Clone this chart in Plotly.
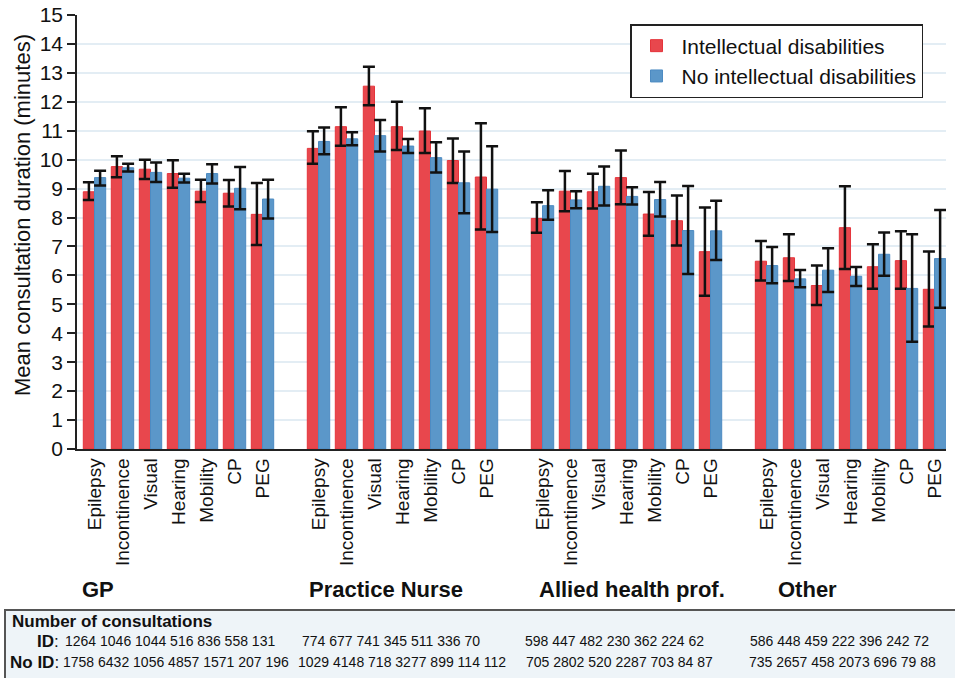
import plotly.graph_objects as go

groups = ["GP", "Practice Nurse", "Allied health prof.", "Other"]
conditions = ["Epilepsy", "Incontinence", "Visual", "Hearing", "Mobility", "CP", "PEG"]

# Intellectual disabilities: mean, lower CI, upper CI (per group, per condition)
id_mean = [8.89, 9.76, 9.67, 9.52, 8.91, 8.84, 8.11,
           10.39, 11.14, 12.54, 11.14, 10.99, 9.97, 9.40,
           7.97, 8.91, 8.89, 9.38, 8.12, 7.89, 6.82,
           6.49, 6.61, 5.65, 7.65, 6.30, 6.51, 5.52]
id_lo = [8.61, 9.39, 9.33, 9.03, 8.54, 8.38, 7.05,
         9.86, 10.48, 11.88, 10.33, 10.23, 9.19, 7.59,
         7.47, 8.22, 8.31, 8.46, 7.37, 7.03, 5.30,
         5.82, 5.81, 4.98, 6.22, 5.54, 5.54, 4.23]
id_hi = [9.22, 10.12, 10.00, 9.98, 9.31, 9.30, 9.19,
         10.98, 11.81, 13.21, 12.00, 11.78, 10.73, 11.26,
         8.53, 9.61, 9.51, 10.32, 8.88, 8.76, 8.35,
         7.19, 7.42, 6.34, 9.08, 7.08, 7.53, 6.83]

# No intellectual disabilities
no_mean = [9.38, 9.72, 9.56, 9.36, 9.52, 9.01, 8.64,
           10.63, 10.72, 10.83, 10.47, 10.07, 9.20, 8.98,
           8.41, 8.61, 9.08, 8.73, 8.62, 7.55, 7.54,
           6.34, 5.88, 6.18, 5.97, 6.73, 5.55, 6.58]
no_lo = [9.11, 9.59, 9.23, 9.21, 9.18, 8.29, 7.97,
         10.19, 10.50, 10.28, 10.23, 9.56, 8.15, 7.50,
         7.92, 8.32, 8.42, 8.45, 8.04, 6.05, 6.53,
         5.73, 5.59, 5.43, 5.63, 5.99, 3.71, 4.88]
no_hi = [9.62, 9.86, 9.90, 9.51, 9.84, 9.75, 9.31,
         11.11, 10.95, 11.37, 10.71, 10.60, 10.28, 10.46,
         8.94, 8.91, 9.76, 9.05, 9.23, 9.09, 8.58,
         6.98, 6.19, 6.94, 6.29, 7.48, 7.42, 8.26]

# Number of consultations
id_counts = [[1264, 1046, 1044, 516, 836, 558, 131],
             [774, 677, 741, 345, 511, 336, 70],
             [598, 447, 482, 230, 362, 224, 62],
             [586, 448, 459, 222, 396, 242, 72]]
noid_counts = [[1758, 6432, 1056, 4857, 1571, 207, 196],
               [1029, 4148, 718, 3277, 899, 114, 112],
               [705, 2802, 520, 2287, 703, 84, 87],
               [735, 2657, 458, 2073, 696, 79, 88]]

yticks = list(range(0, 16))

RED = "#e8474d"
BLUE = "#5b97c9"
FONT = "Arial, Liberation Sans, Helvetica, sans-serif"

xs = [g * 8 + i for g in range(len(groups)) for i in range(len(conditions))]
xlabels = [c for g in groups for c in conditions]

fig = go.Figure()
fig.add_trace(go.Bar(
    x=xs, y=id_mean, name="Intellectual disabilities",
    marker=dict(color=RED, line=dict(color="#e5343b", width=1)),
    error_y=dict(type="data", symmetric=False,
                 array=[h - m for h, m in zip(id_hi, id_mean)],
                 arrayminus=[m - l for m, l in zip(id_mean, id_lo)],
                 color="#111111", thickness=2.5, width=6),
))
fig.add_trace(go.Bar(
    x=xs, y=no_mean, name="No intellectual disabilities",
    marker=dict(color=BLUE, line=dict(color="#4d8bc2", width=1)),
    error_y=dict(type="data", symmetric=False,
                 array=[h - m for h, m in zip(no_hi, no_mean)],
                 arrayminus=[m - l for m, l in zip(no_mean, no_lo)],
                 color="#111111", thickness=2.5, width=6),
))

W, H = 955, 678
L, R, T, B = 77, 9, 15, 229
pw = W - L - R
ph = H - T - B


def px(xp):
    return (xp - L) / pw


def py(yp):
    return (H - B - yp) / ph


annotations = []
# y-axis title
annotations.append(dict(text="Mean consultation duration (minutes)", textangle=-90,
                        xref="paper", yref="paper", x=px(22), y=py(215),
                        xanchor="center", yanchor="middle", showarrow=False,
                        font=dict(size=22, color="#111", family=FONT)))
# group labels
group_label_px = [80, 307, 537, 776]
for g, xp in zip(groups, group_label_px):
    annotations.append(dict(text="<b>" + g + "</b>", xref="paper", yref="paper",
                            x=px(xp), y=py(589), xanchor="left", yanchor="middle",
                            showarrow=False, font=dict(size=22, color="#111", family=FONT)))
# table
annotations.append(dict(text="<b>Number of consultations</b>", xref="paper", yref="paper",
                        x=px(10), y=py(621), xanchor="left", yanchor="middle",
                        showarrow=False, font=dict(size=17, color="#111", family=FONT)))
annotations.append(dict(text="<b>ID</b>:", xref="paper", yref="paper",
                        x=px(61), y=py(641), xanchor="right", yanchor="middle",
                        showarrow=False, font=dict(size=17, color="#111", family=FONT)))
annotations.append(dict(text="<b>No ID</b>:", xref="paper", yref="paper",
                        x=px(61), y=py(662), xanchor="right", yanchor="middle",
                        showarrow=False, font=dict(size=17, color="#111", family=FONT)))
id_row_px = [63, 300, 523, 748]
noid_row_px = [61, 296, 524, 747]
for g in range(len(groups)):
    annotations.append(dict(text=" ".join(str(v) for v in id_counts[g]), xref="paper", yref="paper",
                            x=px(id_row_px[g]), y=py(641), xanchor="left", yanchor="middle",
                            showarrow=False, font=dict(size=14, color="#111", family=FONT)))
    annotations.append(dict(text=" ".join(str(v) for v in noid_counts[g]), xref="paper", yref="paper",
                            x=px(noid_row_px[g]), y=py(662), xanchor="left", yanchor="middle",
                            showarrow=False, font=dict(size=14, color="#111", family=FONT)))

shapes = [dict(type="rect", xref="paper", yref="paper",
               x0=px(5), x1=px(962), y0=py(610), y1=py(684),
               fillcolor="#eef4f8", line=dict(color="#555555", width=2), layer="below")]

fig.update_layout(
    width=W, height=H,
    margin=dict(l=L, r=R, t=T, b=B, autoexpand=False),
    paper_bgcolor="white", plot_bgcolor="white",
    barmode="group", bargap=0.2, bargroupgap=0,
    font=dict(family=FONT, color="#111"),
    showlegend=True,
    legend=dict(x=px(630), y=py(24), xanchor="left", yanchor="top",
                bgcolor="white", bordercolor="#222", borderwidth=1.5,
                font=dict(size=21, family=FONT, color="#111"),
                tracegroupgap=0, itemwidth=40),
    annotations=annotations,
    shapes=shapes,
    xaxis=dict(range=[-0.625, 30.41], tickvals=xs, ticktext=xlabels, tickangle=-90,
               showline=True, linecolor="#222", linewidth=1.5, ticks="",
               showgrid=False, zeroline=False, automargin=False,
               tickfont=dict(size=19, family=FONT, color="#111")),
    yaxis=dict(range=[0, 15], tickvals=yticks, showline=True, linecolor="#222", linewidth=1.5,
               ticks="outside", ticklen=8, tickwidth=1.5, tickcolor="#222",
               showgrid=True, gridcolor="#e3edf4", gridwidth=1.5, zeroline=False,
               automargin=False, tickfont=dict(size=21, family=FONT, color="#111")),
)

fig.write_html("out.html", config={"displayModeBar": False},
               post_script="document.body.style.margin='0';document.body.style.overflow='hidden';")
